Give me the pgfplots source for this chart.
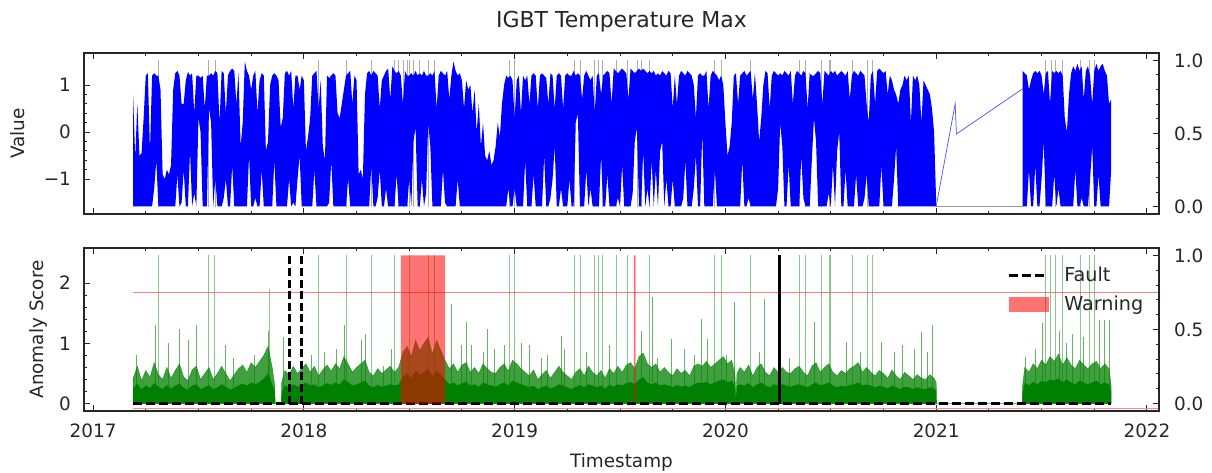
\documentclass[border=0pt]{standalone}
\usepackage{pgfplots}
\pgfplotsset{compat=1.18}
\usepackage{pgfplotstable}
\usepackage{fontspec}
\setmainfont{DejaVu Sans}
\newcommand\lblfont{\fontsize{9.2}{11}\selectfont}
\definecolor{mplgreen}{RGB}{0,128,0}
\definecolor{txt}{RGB}{38,38,38}

\pgfplotstableread{
x lo hi
2017.19 -1.58 0.78
2017.20 -1.58 -0.55
2017.21 -1.58 0.6
2017.22 -1.58 -0.5
2017.23 -1.58 -0.45
2017.24 -1.58 0.3
2017.25 -1.58 1.2
2017.26 -1.58 1.25
2017.27 -1.58 -0.4
2017.28 -1.58 1.2
2017.29 -1.2 1.25
2017.30 -0.6 1.2
2017.31 -1.58 1.2
2017.32 -1.58 0.9
2017.33 -1.58 -0.9
2017.34 -1.58 -1.0
2017.35 -1.58 -0.8
2017.36 -1.58 -0.9
2017.37 -1.58 -0.7
2017.38 -1.58 0.9
2017.39 -1.58 1.25
2017.40 -0.9 1.3
2017.41 -1.58 1.2
2017.42 -1.5 0.6
2017.43 -0.8 0.6
2017.44 -1.58 1.1
2017.45 -1.58 1.28
2017.46 -0.4 1.2
2017.47 -1.58 1.25
2017.48 -1.3 0.4
2017.49 -1.58 1.2
2017.50 0.3 1.2
2017.51 0.0 1.15
2017.52 -1.58 1.2
2017.53 -1.58 0.5
2017.54 -1.58 1.2
2017.55 0.5 1.2
2017.56 0.2 1.25
2017.57 -1.58 1.2
2017.58 -1.0 1.3
2017.59 -1.58 1.25
2017.60 -1.58 0.2
2017.61 -1.58 1.3
2017.62 -1.4 1.25
2017.63 -1.0 0.4
2017.64 -1.58 1.2
2017.65 -1.58 1.3
2017.66 -0.7 1.35
2017.67 -1.58 1.3
2017.68 -1.58 0.6
2017.69 -1.58 1.25
2017.70 -1.58 -0.3
2017.71 -1.58 0.2
2017.72 -1.58 1.5
2017.73 -1.58 1.3
2017.74 -0.5 1.2
2017.75 -1.58 0.9
2017.76 -1.58 1.2
2017.77 -1.4 1.3
2017.78 -1.58 0.4
2017.79 -1.58 1.1
2017.80 -0.8 1.25
2017.81 -1.58 1.2
2017.82 -1.58 -0.4
2017.83 -1.58 -0.2
2017.84 -1.58 1.0
2017.85 -1.58 1.2
2017.86 -0.6 1.25
2017.87 -1.58 1.2
2017.88 -1.58 1.1
2017.89 -1.58 0.1
2017.90 -1.58 0.3
2017.91 -1.58 1.25
2017.92 -1.58 1.3
2017.93 -1.0 1.2
2017.94 -1.58 1.3
2017.95 -1.5 0.5
2017.96 -1.58 1.2
2017.97 -1.0 1.2
2017.98 -0.5 0.9
2017.99 -1.58 1.2
2018.00 -1.58 1.1
2018.01 -1.58 -0.4
2018.02 -1.58 -0.1
2018.03 -1.58 0.3
2018.04 -1.58 1.2
2018.05 -0.8 1.25
2018.06 -1.58 1.3
2018.07 -1.58 0.5
2018.08 -1.58 1.1
2018.09 -1.58 -0.3
2018.10 -1.58 -0.6
2018.11 -1.58 1.2
2018.12 -1.5 1.15
2018.13 -0.6 1.2
2018.14 -1.58 1.25
2018.15 -1.58 1.2
2018.16 -1.58 0.4
2018.17 -1.58 0.3
2018.18 -1.58 0.6
2018.19 -1.58 0.9
2018.20 -1.58 1.2
2018.21 -1.0 1.25
2018.22 -1.58 1.3
2018.23 -1.58 0.6
2018.24 -1.58 1.2
2018.25 -1.58 1.1
2018.26 -1.58 -0.9
2018.27 -1.58 -0.8
2018.28 -1.58 -1.0
2018.29 -1.58 0.8
2018.30 -1.58 1.25
2018.31 -1.58 1.3
2018.32 -0.7 1.2
2018.33 -1.58 1.3
2018.34 -1.58 1.25
2018.35 -1.4 1.2
2018.36 -0.8 0.5
2018.37 -1.58 1.1
2018.38 -1.58 1.2
2018.39 -1.2 1.3
2018.40 -1.58 1.35
2018.41 -1.58 0.7
2018.42 -1.58 1.4
2018.43 -1.58 1.3
2018.44 -0.9 1.25
2018.45 -1.58 1.3
2018.46 -1.58 1.2
2018.47 -1.58 0.6
2018.48 -1.58 1.3
2018.49 -1.58 1.2
2018.50 -1.0 1.2
2018.51 -1.58 1.25
2018.52 -0.2 1.2
2018.53 0.1 1.3
2018.54 -1.58 1.2
2018.55 -1.58 1.25
2018.56 -1.0 1.2
2018.57 -1.58 1.3
2018.58 -1.3 1.2
2018.59 0.2 1.2
2018.60 -0.3 1.25
2018.61 -1.58 1.2
2018.62 -1.58 1.3
2018.63 -1.58 0.5
2018.64 -1.58 1.2
2018.65 -1.58 1.3
2018.66 -0.8 1.25
2018.67 -1.5 1.2
2018.68 -1.58 1.3
2018.69 -1.58 0.7
2018.70 -1.58 1.2
2018.71 -1.58 1.5
2018.72 -1.58 1.3
2018.73 -1.0 1.2
2018.74 -1.58 1.25
2018.75 -1.58 1.1
2018.76 -1.58 0.5
2018.77 -1.58 1.1
2018.78 -1.58 0.9
2018.79 -1.58 1.0
2018.80 -1.58 0.4
2018.81 -1.58 0.9
2018.82 -1.58 0.0
2018.83 -1.58 0.6
2018.84 -1.58 -0.3
2018.85 -1.58 0.2
2018.86 -1.58 -0.5
2018.87 -1.58 -0.6
2018.88 -1.58 -0.4
2018.89 -1.58 -0.7
2018.90 -1.58 -0.6
2018.91 -1.58 -0.3
2018.92 -1.58 0.2
2018.93 -1.58 -0.1
2018.94 -1.58 0.6
2018.95 -1.58 1.0
2018.96 -1.58 1.2
2018.97 -1.2 1.15
2018.98 -1.58 1.2
2018.99 -1.58 1.1
2019.00 -1.2 0.3
2019.01 -1.58 1.1
2019.02 -1.58 1.2
2019.03 -1.58 0.4
2019.04 -1.58 1.2
2019.05 -0.6 1.1
2019.06 -1.58 1.2
2019.07 -1.58 0.6
2019.08 -1.58 1.2
2019.09 -0.9 1.25
2019.10 -1.58 1.2
2019.11 -1.58 0.5
2019.12 -1.58 1.2
2019.13 -1.58 1.25
2019.14 -0.5 1.2
2019.15 -1.58 1.15
2019.16 -1.58 0.6
2019.17 -1.4 1.25
2019.18 -1.0 1.2
2019.19 -0.3 0.5
2019.20 -1.58 1.2
2019.21 -1.58 1.25
2019.22 -1.2 1.2
2019.23 -1.58 0.5
2019.24 -1.58 1.2
2019.25 -1.58 1.25
2019.26 -1.0 1.2
2019.27 -1.58 1.2
2019.28 -1.58 1.3
2019.29 0.2 1.2
2019.30 0.4 1.25
2019.31 -1.58 1.2
2019.32 -1.58 0.7
2019.33 -1.58 1.2
2019.34 -0.8 1.3
2019.35 -1.58 1.2
2019.36 -1.2 1.1
2019.37 -1.58 1.2
2019.38 -1.58 0.4
2019.39 -1.58 1.2
2019.40 -1.58 1.25
2019.41 -0.5 0.8
2019.42 -1.58 1.2
2019.43 -1.58 1.25
2019.44 -0.9 1.3
2019.45 -1.58 1.25
2019.46 -1.58 0.6
2019.47 -1.58 1.35
2019.48 -1.58 1.3
2019.49 -1.4 1.25
2019.50 -1.58 1.3
2019.51 -0.7 1.35
2019.52 -1.58 1.3
2019.53 -1.58 1.25
2019.54 -1.58 0.7
2019.55 -1.58 1.35
2019.56 -1.3 1.3
2019.57 -0.2 1.25
2019.58 0.1 1.3
2019.59 -1.58 1.35
2019.60 -1.58 1.3
2019.61 -0.4 1.35
2019.62 -1.58 1.3
2019.63 -1.2 1.25
2019.64 -1.58 1.3
2019.65 -0.6 1.25
2019.66 -1.58 1.3
2019.67 -0.8 1.2
2019.68 -1.58 1.25
2019.69 -0.4 1.2
2019.70 -0.2 1.3
2019.71 -1.58 1.25
2019.72 -1.0 1.2
2019.73 -1.58 1.3
2019.74 -1.58 1.25
2019.75 -1.0 0.5
2019.76 -1.58 1.2
2019.77 -1.58 0.6
2019.78 -1.58 1.2
2019.79 -1.58 1.3
2019.80 -1.4 1.25
2019.81 -0.6 1.2
2019.82 -1.58 1.3
2019.83 -1.58 1.25
2019.84 -1.58 1.2
2019.85 -1.2 1.0
2019.86 -0.5 0.3
2019.87 -1.58 1.2
2019.88 -1.58 1.25
2019.89 0.0 1.2
2019.90 -1.58 1.2
2019.91 -1.58 1.3
2019.92 -1.58 0.5
2019.93 -1.58 1.2
2019.94 -1.58 1.3
2019.95 -0.8 1.25
2019.96 -1.58 1.2
2019.97 -1.58 1.1
2019.98 -1.58 1.2
2019.99 -1.58 1.0
2020.00 -1.58 0.2
2020.01 -1.58 -0.5
2020.02 -1.58 -0.3
2020.03 -1.58 0.2
2020.04 -1.58 1.2
2020.05 -1.58 1.25
2020.06 -1.58 0.6
2020.07 -1.58 1.2
2020.08 -0.6 1.25
2020.09 -1.58 1.3
2020.10 -1.58 1.2
2020.11 -1.4 1.25
2020.12 -1.58 1.3
2020.13 -1.58 0.7
2020.14 -1.58 1.25
2020.15 -1.58 0.6
2020.16 -1.58 -0.2
2020.17 -1.58 0.3
2020.18 -1.58 1.0
2020.19 -1.58 1.3
2020.20 -1.58 1.25
2020.21 -1.58 0.5
2020.22 -1.58 1.2
2020.23 -1.58 1.3
2020.24 -1.58 1.25
2020.25 -1.2 1.2
2020.26 0.2 1.25
2020.27 -0.3 1.2
2020.28 -1.58 1.3
2020.29 -1.58 1.25
2020.30 -0.7 1.2
2020.31 -1.58 1.3
2020.32 -1.58 0.6
2020.33 -1.58 1.2
2020.34 -1.58 1.3
2020.35 -1.58 1.25
2020.36 -0.5 1.2
2020.37 -1.4 1.3
2020.38 -1.58 1.25
2020.39 -1.58 0.5
2020.40 -1.58 1.25
2020.41 -0.6 1.2
2020.42 0.3 1.2
2020.43 -0.2 1.25
2020.44 -1.58 1.3
2020.45 -1.58 1.25
2020.46 -1.58 0.6
2020.47 -1.58 1.3
2020.48 -1.58 1.25
2020.49 -1.3 1.2
2020.50 -1.58 1.3
2020.51 -0.7 1.25
2020.52 -1.58 1.3
2020.53 -0.4 1.2
2020.54 0.0 1.25
2020.55 -1.58 1.3
2020.56 -1.58 1.25
2020.57 -0.8 1.2
2020.58 -1.58 1.3
2020.59 -1.58 0.7
2020.60 -1.58 1.2
2020.61 -1.58 1.3
2020.62 -0.9 1.25
2020.63 -1.58 1.2
2020.64 -1.58 1.3
2020.65 -1.58 1.25
2020.66 -1.4 1.2
2020.67 -0.9 0.6
2020.68 -1.58 0.2
2020.69 -1.58 1.2
2020.70 -1.58 1.3
2020.71 -1.58 0.6
2020.72 -1.58 1.3
2020.73 -1.58 1.35
2020.74 -0.7 1.3
2020.75 -1.58 1.25
2020.76 -1.58 1.3
2020.77 -1.58 0.8
2020.78 -1.58 1.2
2020.79 -1.58 1.1
2020.80 -1.0 0.9
2020.81 -0.3 0.8
2020.82 -1.58 0.6
2020.83 -1.58 0.9
2020.84 -1.58 1.0
2020.85 -1.58 1.2
2020.86 -1.58 1.1
2020.87 -1.58 1.2
2020.88 -1.58 0.2
2020.89 -1.58 1.2
2020.90 -1.58 1.1
2020.91 -1.58 1.2
2020.92 -1.58 1.0
2020.93 -1.58 0.2
2020.94 -1.58 1.1
2020.95 -1.58 1.0
2020.96 -1.58 0.9
2020.97 -1.58 0.8
2020.98 -1.58 0.5
2020.99 -1.58 0.0
2021.00 -1.58 -1.5
}\blueA

\pgfplotstableread{
x lo hi
2021.41 -1.58 1.3
2021.42 -1.58 1.25
2021.43 -1.58 1.2
2021.44 -0.8 0.9
2021.45 -1.58 1.1
2021.46 -1.58 1.25
2021.47 -0.7 1.3
2021.48 -1.58 1.25
2021.49 -1.58 1.3
2021.50 -1.0 1.2
2021.51 -0.2 0.8
2021.52 -1.58 1.25
2021.53 -1.58 1.3
2021.54 -1.58 0.6
2021.55 -1.58 1.3
2021.56 -0.9 1.25
2021.57 -1.58 1.3
2021.58 -1.2 1.25
2021.59 -1.58 1.3
2021.60 -1.58 1.2
2021.61 -1.58 0.3
2021.62 -1.58 0.0
2021.63 -1.58 0.8
2021.64 -1.58 1.25
2021.65 -1.58 1.4
2021.66 -0.8 1.3
2021.67 -1.58 1.45
2021.68 -1.58 1.3
2021.69 -1.4 1.4
2021.70 -1.58 0.7
2021.71 -1.58 1.3
2021.72 -1.58 1.4
2021.73 -1.0 1.2
2021.74 -0.3 0.6
2021.75 -1.58 1.3
2021.76 -1.58 1.45
2021.77 -0.9 1.3
2021.78 -1.58 1.4
2021.79 -1.58 1.45
2021.80 -1.58 1.3
2021.81 -1.58 1.2
2021.82 -1.58 0.6
2021.83 -0.8 0.7
}\blueB

\pgfplotstableread{
x d l
2017.19 0.25 0.42
2017.21 0.33 0.62
2017.23 0.24 0.38
2017.25 0.3 0.55
2017.27 0.26 0.44
2017.29 0.34 0.68
2017.31 0.28 0.48
2017.33 0.24 0.4
2017.35 0.31 0.6
2017.37 0.25 0.42
2017.39 0.3 0.55
2017.41 0.33 0.66
2017.43 0.26 0.44
2017.45 0.23 0.38
2017.47 0.3 0.56
2017.49 0.32 0.62
2017.51 0.24 0.4
2017.53 0.27 0.5
2017.55 0.31 0.6
2017.57 0.24 0.4
2017.59 0.27 0.5
2017.61 0.32 0.62
2017.63 0.28 0.5
2017.65 0.23 0.38
2017.67 0.26 0.48
2017.69 0.3 0.58
2017.71 0.33 0.64
2017.73 0.3 0.52
2017.75 0.35 0.68
2017.77 0.32 0.6
2017.79 0.36 0.7
2017.81 0.42 0.8
2017.83 0.5 0.95
2017.85 0.32 0.6
2017.862 0.2 0.3
2017.864 0 0
2017.893 0 0
2017.895 0.2 0.35
2017.91 0.3 0.55
2017.93 0.27 0.48
2017.95 0.32 0.62
2017.97 0.28 0.5
2017.99 0.31 0.58
2018.01 0.35 0.66
2018.03 0.3 0.52
2018.05 0.32 0.62
2018.07 0.27 0.46
2018.09 0.3 0.56
2018.11 0.34 0.64
2018.13 0.31 0.54
2018.15 0.35 0.66
2018.17 0.32 0.58
2018.19 0.4 0.78
2018.21 0.36 0.66
2018.23 0.3 0.52
2018.25 0.32 0.6
2018.27 0.35 0.66
2018.29 0.38 0.72
2018.31 0.3 0.52
2018.33 0.27 0.46
2018.35 0.31 0.58
2018.37 0.28 0.5
2018.39 0.3 0.56
2018.41 0.32 0.62
2018.43 0.3 0.52
2018.45 0.32 0.6
2018.47 0.45 0.85
2018.49 0.5 0.95
2018.51 0.42 0.78
2018.53 0.55 1.05
2018.55 0.48 0.88
2018.57 0.52 1.0
2018.59 0.58 1.1
2018.61 0.45 0.82
2018.63 0.55 1.05
2018.65 0.48 0.88
2018.67 0.4 0.72
2018.69 0.32 0.58
2018.71 0.35 0.66
2018.73 0.3 0.52
2018.75 0.34 0.64
2018.77 0.36 0.68
2018.79 0.3 0.52
2018.81 0.32 0.6
2018.83 0.28 0.5
2018.85 0.35 0.66
2018.87 0.32 0.58
2018.89 0.3 0.52
2018.91 0.28 0.5
2018.93 0.32 0.6
2018.95 0.35 0.66
2018.97 0.3 0.54
2018.99 0.38 0.72
2019.01 0.35 0.66
2019.03 0.32 0.58
2019.05 0.3 0.52
2019.07 0.27 0.46
2019.09 0.3 0.56
2019.11 0.24 0.4
2019.13 0.27 0.48
2019.15 0.3 0.55
2019.17 0.25 0.42
2019.19 0.28 0.52
2019.21 0.32 0.62
2019.23 0.3 0.52
2019.25 0.27 0.46
2019.27 0.24 0.4
2019.29 0.28 0.52
2019.31 0.31 0.58
2019.33 0.27 0.46
2019.35 0.32 0.62
2019.37 0.3 0.52
2019.39 0.27 0.46
2019.41 0.3 0.55
2019.43 0.25 0.42
2019.45 0.31 0.58
2019.47 0.28 0.5
2019.49 0.32 0.62
2019.51 0.3 0.52
2019.53 0.34 0.64
2019.55 0.36 0.68
2019.57 0.32 0.58
2019.59 0.4 0.78
2019.61 0.44 0.84
2019.63 0.35 0.66
2019.65 0.32 0.6
2019.67 0.35 0.66
2019.69 0.3 0.52
2019.71 0.32 0.6
2019.73 0.3 0.52
2019.75 0.27 0.46
2019.77 0.31 0.58
2019.79 0.28 0.5
2019.81 0.3 0.55
2019.83 0.27 0.46
2019.85 0.32 0.62
2019.87 0.35 0.66
2019.89 0.34 0.62
2019.91 0.36 0.7
2019.93 0.32 0.6
2019.95 0.35 0.66
2019.97 0.38 0.72
2019.99 0.4 0.78
2020.01 0.35 0.66
2020.03 0.38 0.72
2020.045 0.3 0.5
2020.05 0.05 0.1
2020.055 0.3 0.5
2020.07 0.32 0.6
2020.09 0.3 0.52
2020.11 0.34 0.64
2020.13 0.27 0.46
2020.15 0.32 0.6
2020.17 0.35 0.66
2020.19 0.3 0.52
2020.21 0.27 0.46
2020.23 0.32 0.6
2020.25 0.3 0.52
2020.27 0.32 0.6
2020.29 0.3 0.52
2020.31 0.28 0.5
2020.33 0.31 0.58
2020.35 0.32 0.62
2020.37 0.3 0.52
2020.39 0.27 0.46
2020.41 0.32 0.62
2020.43 0.35 0.68
2020.45 0.3 0.52
2020.47 0.32 0.6
2020.49 0.35 0.66
2020.51 0.3 0.52
2020.53 0.27 0.46
2020.55 0.3 0.55
2020.57 0.28 0.5
2020.59 0.31 0.58
2020.61 0.32 0.62
2020.63 0.35 0.68
2020.65 0.3 0.52
2020.67 0.32 0.6
2020.69 0.3 0.52
2020.71 0.27 0.46
2020.73 0.3 0.55
2020.75 0.28 0.5
2020.77 0.25 0.42
2020.79 0.3 0.56
2020.81 0.27 0.46
2020.83 0.24 0.4
2020.85 0.28 0.52
2020.87 0.27 0.46
2020.89 0.24 0.4
2020.91 0.27 0.48
2020.93 0.25 0.42
2020.95 0.24 0.4
2020.97 0.27 0.48
2020.99 0.25 0.42
2021.00 0.2 0.35
2021.002 0 0
2021.408 0 0
2021.41 0.2 0.3
2021.42 0.35 0.6
2021.44 0.3 0.52
2021.46 0.36 0.66
2021.48 0.32 0.58
2021.50 0.38 0.72
2021.52 0.35 0.64
2021.54 0.4 0.78
2021.56 0.38 0.7
2021.58 0.42 0.82
2021.60 0.35 0.64
2021.62 0.4 0.76
2021.64 0.35 0.64
2021.66 0.32 0.58
2021.68 0.38 0.72
2021.70 0.35 0.64
2021.72 0.32 0.58
2021.74 0.35 0.66
2021.76 0.38 0.7
2021.78 0.32 0.58
2021.80 0.35 0.66
2021.82 0.32 0.58
2021.83 0.2 0.3
}\greenbulk

\pgfplotstableread{
x y
2017.31 2.46
2017.547 2.46
2017.578 2.46
2017.839 1.91
2018.068 2.46
2018.202 2.46
2018.321 2.46
2018.431 2.46
2018.50 2.46
2018.59 2.46
2018.62 2.46
2018.976 2.46
2019.0 2.46
2019.284 2.46
2019.313 2.46
2019.379 2.46
2019.398 2.46
2019.418 2.46
2019.482 2.46
2019.537 2.46
2019.64 2.46
2019.948 2.46
2019.98 2.46
2020.119 2.46
2020.351 2.46
2020.378 2.46
2020.454 2.46
2020.493 2.46
2020.50 2.46
2020.604 2.46
2020.675 2.46
2020.699 2.46
2021.52 2.46
2021.544 2.46
2021.567 2.46
2021.599 2.46
2021.686 2.46
2021.725 2.46
2021.749 2.46
}\tallspikes

\pgfplotstableread{
x y
2017.207 0.8
2017.294 1.3
2017.357 1.0
2017.412 1.24
2017.452 1.05
2017.492 1.3
2017.626 0.97
2017.665 0.75
2017.768 0.8
2017.83 1.2
2017.902 1.1
2018.036 0.8
2018.10 0.85
2018.155 0.9
2018.194 1.3
2018.274 1.05
2018.29 1.15
2018.376 0.63
2018.415 0.9
2018.70 1.65
2018.747 0.97
2018.771 1.36
2018.794 0.97
2018.85 0.86
2018.873 1.24
2018.905 0.9
2018.952 0.97
2019.031 1.0
2019.07 0.97
2019.126 0.75
2019.158 0.8
2019.221 1.13
2019.237 0.9
2019.34 0.86
2019.45 0.97
2019.60 1.2
2019.656 1.77
2019.679 0.75
2019.743 1.08
2019.806 0.91
2019.853 0.8
2019.885 1.41
2019.913 1.08
2020.003 0.8
2020.043 1.68
2020.161 0.86
2020.185 1.74
2020.303 0.75
2020.422 1.36
2020.572 1.02
2020.643 0.86
2020.738 1.02
2020.801 0.86
2020.841 0.97
2020.896 0.91
2020.928 1.19
2020.959 0.86
2020.983 1.3
2021.425 0.77
2021.47 0.9
2021.504 1.33
2021.583 1.2
2021.62 1.0
2021.646 1.16
2021.70 1.1
2021.773 1.38
2021.796 1.38
2021.82 1.38
}\medspikes

\pgfplotstableread{
x y
2017.31 1
2017.547 1
2017.578 1
2018.068 1
2018.202 1
2018.321 1
2018.431 1
2018.45 1
2018.47 1
2018.49 1
2018.50 1
2018.52 1
2018.55 1
2018.59 1
2018.62 1
2018.976 1
2019.0 1
2019.284 1
2019.313 1
2019.379 1
2019.398 1
2019.418 1
2019.482 1
2019.537 1
2019.58 1
2019.60 1
2019.64 1
2019.948 1
2019.98 1
2020.119 1
2020.351 1
2020.378 1
2020.454 1
2020.493 1
2020.50 1
2020.604 1
2020.675 1
2020.699 1
2021.52 1
2021.544 1
2021.567 1
2021.599 1
2021.686 1
2021.725 1
2021.749 1
}\grayspikes

\pgfplotsset{
  every axis/.append style={
    scale only axis, width=537.5pt,
    xmin=2016.957, xmax=2022.057,
    tick align=inside,
    axis line style={line width=0.6pt, black!85},
    major tick length=3.2pt, minor tick length=1.7pt,
    every tick/.style={black!85, line width=0.5pt},
    ticklabel style={font=\lblfont, text=txt},
    label style={font=\lblfont, text=txt},
    xticklabel style={yshift=-3pt},
  }
}

\begin{document}
\begin{tikzpicture}
\path[use as bounding box] (0,0) rectangle (606pt,-236pt);

% ---------- TOP: twin (right) axis drawn first ----------
\begin{axis}[at={(42pt,-26.5pt)}, anchor=north west, height=80.5pt,
  hide x axis, ymin=-0.05, ymax=1.05,
  ytick pos=right, yticklabel pos=right,
  yticklabel style={xshift=4pt},
  ytick={0,0.5,1}, yticklabels={0.0,0.5,1.0}, minor y tick num=4]
\addplot[ycomb, black!45, line width=0.35pt, opacity=0.7, mark=none] table[x=x,y=y]{\grayspikes};
\addplot[black!40, line width=0.4pt, mark=none] coordinates {(2021.0,0) (2021.41,0)};
\end{axis}

% ---------- TOP: main axis ----------
\begin{axis}[at={(42pt,-26.5pt)}, anchor=north west, height=80.5pt,
  ymin=-1.74, ymax=1.68,
  xtick={2017,2018,2019,2020,2021,2022}, xticklabels={},
  minor x tick num=3,
  ytick pos=left, yticklabel style={xshift=-3pt},
  ytick={-1,0,1}, yticklabels={−1,0,1}, minor y tick num=4,
  ylabel={Value},
  ylabel style={at={(axis description cs:-0.0614,0.5)}, anchor=center},
  title={IGBT Temperature Max},
  title style={at={(axis description cs:0.5,1)}, anchor=center, yshift=9.5pt,
    font=\fontsize{11}{13}\selectfont, text=txt}]
\addplot[draw=none, fill=none, stack plots=y, forget plot, mark=none] table[x=x,y=lo]{\blueA};
\addplot[fill=blue, draw=none, stack plots=y, mark=none] table[x=x,y expr=\thisrow{hi}-\thisrow{lo}]{\blueA} \closedcycle;
\addplot[blue!70, line width=0.35pt, mark=none] coordinates {(2021.00,-1.58) (2021.09,0.60) (2021.096,-0.04) (2021.41,0.92)};
\end{axis}

% ---------- TOP: overlay for the 2021 segment ----------
\begin{axis}[at={(42pt,-26.5pt)}, anchor=north west, height=80.5pt,
  ymin=-1.74, ymax=1.68, hide axis]
\addplot[draw=none, fill=none, stack plots=y, forget plot, mark=none] table[x=x,y=lo]{\blueB};
\addplot[fill=blue, draw=none, stack plots=y, mark=none] table[x=x,y expr=\thisrow{hi}-\thisrow{lo}]{\blueB} \closedcycle;
\end{axis}

% ---------- BOTTOM: main axis ----------
\begin{axis}[at={(42pt,-124pt)}, anchor=north west, height=81.5pt,
  ymin=-0.123, ymax=2.583,
  xtick={2017,2018,2019,2020,2021,2022},
  xticklabels={2017,2018,2019,2020,2021,2022},
  minor x tick num=3,
  ytick pos=left, yticklabel style={xshift=-3pt},
  ytick={0,1,2}, yticklabels={0,1,2}, minor y tick num=4,
  ylabel={Anomaly Score},
  ylabel style={at={(axis description cs:-0.0428,0.5)}, anchor=center},
  xlabel={Timestamp},
  xlabel style={at={(axis description cs:0.5,0)}, anchor=center, yshift=-25.5pt}]
\addplot[fill=mplgreen, fill opacity=0.75, draw=mplgreen, draw opacity=0.75, line width=0.2pt, mark=none] table[x=x,y=l]{\greenbulk} \closedcycle;
\addplot[fill=mplgreen, draw=none, mark=none] table[x=x,y=d]{\greenbulk} \closedcycle;
\addplot[ycomb, mplgreen, line width=0.45pt, opacity=0.6, mark=none] table[x=x,y=y]{\medspikes};
\addplot[ycomb, mplgreen, line width=0.5pt, opacity=0.45, mark=none] table[x=x,y=y]{\tallspikes};
\addplot[red!70, line width=0.3pt, opacity=0.7, mark=none] coordinates {(2017.19,1.85) (2022.057,1.85)};
\addplot[red!45, line width=0.3pt, mark=none] coordinates {(2017.19,-0.085) (2022.057,-0.085)};
\end{axis}

% ---------- BOTTOM: twin (right) axis ----------
\begin{axis}[at={(42pt,-124pt)}, anchor=north west, height=81.5pt,
  hide x axis, ymin=-0.05, ymax=1.05,
  ytick pos=right, yticklabel pos=right,
  yticklabel style={xshift=4pt},
  ytick={0,0.5,1}, yticklabels={0.0,0.5,1.0}, minor y tick num=4,
  legend style={at={(0.853,0.935)}, anchor=north west, draw=none, fill=none,
    font=\fontsize{9.6}{11.5}\selectfont, text=txt, row sep=1.5pt},
  legend cell align=left]
\addplot[black, line width=1.5pt, dash pattern=on 4.5pt off 2pt, mark=none,
  legend image code/.code={\draw[black, line width=1.5pt, dash pattern=on 4.5pt off 2pt] (0pt,0pt) -- (19pt,0pt); \path (25pt,0pt);}]
  coordinates {(2017.19,0) (2021.83,0)};
\addlegendentry{Fault}
\addplot[fill=red, fill opacity=0.55, draw=none, mark=none,
  legend image code/.code={\fill[red, fill opacity=0.55] (0pt,-3.75pt) rectangle (20pt,3.75pt); \path (25pt,0pt);}]
  coordinates {(2018.46,0) (2018.46,1) (2018.67,1) (2018.67,0)} \closedcycle;
\addlegendentry{Warning}
\addplot[fill=red, fill opacity=0.55, draw=none, forget plot, mark=none] coordinates {(2019.566,0) (2019.566,1) (2019.574,1) (2019.574,0)} \closedcycle;
\addplot[black, line width=1.5pt, dash pattern=on 4pt off 1.8pt, forget plot, mark=none] coordinates {(2017.93,0) (2017.93,1)};
\addplot[black, line width=1.5pt, dash pattern=on 4pt off 1.8pt, forget plot, mark=none] coordinates {(2017.99,0) (2017.99,1)};
\addplot[black, line width=1.4pt, forget plot, mark=none] coordinates {(2020.256,0) (2020.256,1)};
\end{axis}
\end{tikzpicture}
\end{document}
